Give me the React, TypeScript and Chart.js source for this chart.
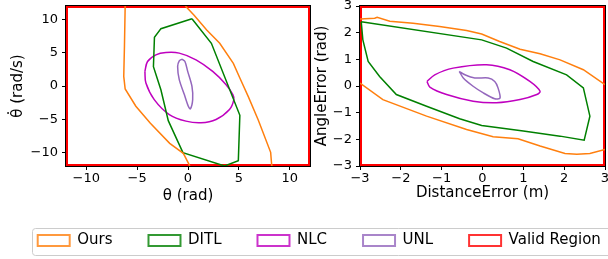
import React, { useEffect, useRef } from 'react';
import { Chart, registerables } from 'chart.js';

Chart.register(...registerables);

const FAMILY = "'DejaVu Sans', sans-serif";

// ---------- series names & colours ----------
const seriesNames = ['Ours', 'DITL', 'NLC', 'UNL', 'Valid Region'];
const seriesColors = ['#ff7f0e', '#008000', '#bf00bf', '#9467bd', '#ff0000'];
const legendColors = [
  'rgba(255,127,14,0.8)',
  'rgba(0,128,0,0.8)',
  'rgba(191,0,191,0.8)',
  'rgba(148,103,189,0.8)',
  'rgba(255,0,0,0.8)',
];

// ---------- left panel: pendulum (theta, theta-dot) ----------
const pendXTicks = [-10, -5, 0, 5, 10];
const pendYTicks = [-10, -5, 0, 5, 10];
const pendLimit = 12;

const oursPendLeft: [number, number][] = [
  [-6.18, 12], [-6.25, 6], [-6.32, 1.44], [-6.18, -0.45], [-5.13, -3.03],
  [-3.7, -5.6], [-1.8, -8.6], [-0.46, -10.1], [0.13, -11.85], [0.15, -12],
];
const oursPendRight: [number, number][] = [
  [-0.26, 12], [0.6, 10.6], [1.84, 8.4], [3.12, 6.4], [4.46, 3.4],
  [5.1, 1.2], [5.93, -1.6], [6.91, -5.1], [8.13, -9.95], [8.23, -11.85], [8.25, -12],
];
const ditlPend: [number, number][] = [
  [0.39, 10.1], [2.3, 6.4], [5.1, -4.4], [4.95, -11.2], [3.6, -12],
  [-0.5, -10.0], [-1.94, -5.2], [-2.66, -0.6], [-3.4, 2.9], [-3.3, 7.3],
  [-2.66, 8.6], [0.39, 10.1],
];
const nlcPend: [number, number][] = [
  [-4.24, 2.19], [-3.98, 3.68], [-3.16, 4.68], [-2.17, 5.02], [-0.86, 4.93],
  [0.79, 3.93], [2.43, 2.19], [3.75, 0.2], [4.41, -1.29], [4.51, -2.04],
  [4.08, -3.53], [2.76, -5.02], [1.28, -5.52], [-0.2, -5.27], [-1.84, -4.28],
  [-3.32, -2.04], [-4.14, 0.45], [-4.24, 2.19],
];
const unlPend: [number, number][] = [
  [-0.59, 4.03], [-0.3, 3.68], [-0.03, 2.19], [0.39, -0.05], [0.46, -2.04],
  [0.23, -3.43], [0.03, -3.03], [-0.36, -1.29], [-0.86, 0.95], [-1.02, 2.94],
  [-0.86, 3.78], [-0.59, 4.03],
];

// ---------- right panel: tracking (distance error, angle error) ----------
const trackXTicks = [-3, -2, -1, 0, 1, 2, 3];
const trackYTicks = [-3, -2, -1, 0, 1, 2, 3];
const trackLimit = 3;

const oursTrackUpper: [number, number][] = [
  [-3, 2.51], [-2.64, 2.54], [-2.58, 2.58], [-2.27, 2.43], [-1.7, 2.35],
  [-1.05, 2.23], [-0.39, 2.08], [-0.02, 1.95], [0.42, 1.67], [0.92, 1.38],
  [1.41, 1.21], [1.9, 0.98], [2.47, 0.61], [3, 0.05],
];
const oursTrackLower: [number, number][] = [
  [-3, 0.11], [-2.44, -0.51], [-1.37, -1.13], [-0.39, -1.63], [0.26, -1.9],
  [0.87, -1.98], [1.41, -2.25], [2.02, -2.53], [2.31, -2.56], [2.63, -2.53],
  [3, -2.38],
];
const ditlTrack: [number, number][] = [
  [-2.97, 2.41], [-0.02, 1.73], [0.59, 1.42], [1.24, 0.92], [2.06, 0.42],
  [2.47, -0.07], [2.63, -1.13], [2.49, -2.03], [1.9, -1.88], [1.0, -1.69],
  [-0.02, -1.48], [-0.56, -1.23], [-1.37, -0.76], [-2.11, -0.32], [-2.52, 0.36],
  [-2.8, 0.92], [-2.93, 1.73], [-2.97, 2.41],
];
const nlcTrack: [number, number][] = [
  [-1.36, 0.17], [-1.17, 0.42], [-0.72, 0.67], [0.1, 0.8], [0.67, 0.61],
  [1.16, 0.17], [1.41, -0.2], [1.33, -0.32], [0.92, -0.51], [0.34, -0.63],
  [-0.23, -0.57], [-0.88, -0.32], [-1.29, -0.04], [-1.36, 0.17],
];
const unlTrack: [number, number][] = [
  [-0.57, 0.55], [-0.43, 0.42], [-0.19, 0.3], [0.14, 0.3], [0.3, 0.17],
  [0.38, -0.07], [0.43, -0.45], [0.3, -0.48], [0.02, -0.26], [-0.23, -0.01],
  [-0.47, 0.3], [-0.57, 0.55],
];

// ---------- helpers ----------
const toPts = (arr: [number, number][]) => arr.map(([x, y]) => ({ x, y }));
const fmt = (v: any) => String(v).replace('-', '\u2212');

function curve(data: [number, number][], color: string, tension = 0, extra: any = {}) {
  return {
    data: toPts(data),
    showLine: true,
    borderColor: color,
    backgroundColor: 'transparent',
    borderWidth: 1.5,
    pointRadius: 0,
    pointHoverRadius: 0,
    tension,
    fill: false,
    ...extra,
  };
}

function validRegion(lim: number) {
  const box: [number, number][] = [[-lim, -lim], [lim, -lim], [lim, lim], [-lim, lim], [-lim, -lim]];
  return curve(box, seriesColors[4], 0, { borderWidth: 4, clip: 0 });
}

const spinePlugin = {
  id: 'spine',
  afterDatasetsDraw(chart: any) {
    const { ctx, chartArea: a } = chart;
    ctx.save();
    ctx.strokeStyle = '#000';
    ctx.lineWidth = 1;
    ctx.strokeRect(a.left - 0.5, a.top - 0.5, a.right - a.left + 1, a.bottom - a.top + 1);
    ctx.restore();
  },
};

function plotConfig(o: {
  datasets: any[];
  lim: number;
  xTicks: number[];
  yTicks: number[];
  xTitle: string;
  yTitle: string;
  yWidth: number;
  padRight: number;
  xTitleBottom: number;
  yTitleTop: number;
}): any {
  const tickFont = { size: 13, family: FAMILY };
  const titleFont = { size: 15, family: FAMILY };
  const grid = { drawOnChartArea: false, drawTicks: true, tickLength: 4, tickColor: '#000', tickWidth: 1 };
  return {
    type: 'scatter',
    data: { datasets: o.datasets },
    options: {
      animation: false,
      responsive: false,
      events: [],
      layout: { padding: { left: 0, right: o.padRight, top: 6, bottom: 0 } },
      plugins: { legend: { display: false }, tooltip: { enabled: false } },
      scales: {
        x: {
          type: 'linear',
          min: -o.lim,
          max: o.lim,
          afterBuildTicks: (s: any) => { s.ticks = o.xTicks.map((v) => ({ value: v })); },
          afterFit: (s: any) => { s.height = 44; s.paddingLeft = 0; s.paddingRight = 0; },
          ticks: { font: tickFont, color: '#000', padding: 1, maxRotation: 0, autoSkip: false, callback: fmt },
          grid,
          border: { display: false },
          title: { display: true, text: o.xTitle, font: titleFont, color: '#000', padding: { top: 0, bottom: o.xTitleBottom } },
        },
        y: {
          type: 'linear',
          min: -o.lim,
          max: o.lim,
          afterBuildTicks: (s: any) => { s.ticks = o.yTicks.map((v) => ({ value: v })); },
          afterFit: (s: any) => { s.width = o.yWidth; s.paddingTop = 0; s.paddingBottom = 0; },
          ticks: { font: tickFont, color: '#000', padding: 4, autoSkip: false, callback: fmt },
          grid,
          border: { display: false },
          title: { display: true, text: o.yTitle, font: titleFont, color: '#000', padding: { top: o.yTitleTop, bottom: 0 } },
        },
      },
    },
    plugins: [spinePlugin],
  };
}

const legendFramePlugin = {
  id: 'legendFrame',
  afterDraw(chart: any) {
    const boxes = chart.legend && chart.legend.legendHitBoxes;
    if (!boxes || !boxes.length) return;
    const ctx = chart.ctx;
    const first = boxes[0];
    const left = Math.round(first.left - 5.5) + 0.5;
    const top = Math.round(first.top - 5) + 0.5;
    const height = 27;
    const right = chart.width + 20;
    const r = 3;
    ctx.save();
    ctx.strokeStyle = '#cccccc';
    ctx.lineWidth = 1;
    ctx.beginPath();
    ctx.moveTo(left + r, top);
    ctx.lineTo(right, top);
    ctx.lineTo(right, top + height);
    ctx.lineTo(left + r, top + height);
    ctx.arcTo(left, top + height, left, top + height - r, r);
    ctx.lineTo(left, top + r);
    ctx.arcTo(left, top, left + r, top, r);
    ctx.stroke();
    ctx.restore();
  },
};

export default function App() {
  const leftRef = useRef<HTMLCanvasElement>(null);
  const rightRef = useRef<HTMLCanvasElement>(null);
  const legendRef = useRef<HTMLCanvasElement>(null);

  useEffect(() => {
    const left = new Chart(
      leftRef.current as HTMLCanvasElement,
      plotConfig({
        datasets: [
          curve(oursPendLeft, seriesColors[0]),
          curve(oursPendRight, seriesColors[0]),
          curve(ditlPend, seriesColors[1]),
          curve(nlcPend, seriesColors[2], 0.35),
          curve(unlPend, seriesColors[3], 0.3),
          validRegion(pendLimit),
        ],
        lim: pendLimit,
        xTicks: pendXTicks,
        yTicks: pendYTicks,
        xTitle: 'θ (rad)',
        yTitle: 'θ\u0307 (rad/s)',
        yWidth: 66,
        padRight: 10,
        xTitleBottom: 5,
        yTitleTop: 9,
      })
    );
    const right = new Chart(
      rightRef.current as HTMLCanvasElement,
      plotConfig({
        datasets: [
          curve(oursTrackUpper, seriesColors[0]),
          curve(oursTrackLower, seriesColors[0]),
          curve(ditlTrack, seriesColors[1]),
          curve(nlcTrack, seriesColors[2], 0.3),
          curve(unlTrack, seriesColors[3], 0.25),
          validRegion(trackLimit),
        ],
        lim: trackLimit,
        xTicks: trackXTicks,
        yTicks: trackYTicks,
        xTitle: 'DistanceError (m)',
        yTitle: 'AngleError (rad)',
        yWidth: 50,
        padRight: 3,
        xTitleBottom: 8,
        yTitleTop: 3,
      })
    );
    const legend = new Chart(legendRef.current as HTMLCanvasElement, {
      type: 'scatter',
      data: {
        datasets: seriesNames.map((name, i) => ({
          label: name,
          data: [],
          borderColor: legendColors[i],
          backgroundColor: 'transparent',
          borderWidth: 2,
        })),
      },
      options: {
        animation: false,
        responsive: false,
        events: [],
        layout: { padding: { left: 1.7, top: 1, right: 0, bottom: 0 } },
        scales: { x: { display: false }, y: { display: false } },
        plugins: {
          tooltip: { enabled: false },
          legend: {
            display: true,
            position: 'top',
            align: 'start',
            labels: {
              boxWidth: 32,
              boxHeight: 11,
              padding: 36,
              color: '#000',
              font: { size: 15, family: FAMILY },
            },
          },
        },
      } as any,
      plugins: [legendFramePlugin],
    });
    return () => {
      left.destroy();
      right.destroy();
      legend.destroy();
    };
  }, []);

  return (
    <div style={{ position: 'fixed', left: 0, top: 0, width: 608, height: 259, overflow: 'hidden', background: '#fff' }}>
      <canvas ref={legendRef} width={760} height={120} style={{ position: 'absolute', left: 0, top: 196, width: 760, height: 120 }} />
      <canvas ref={leftRef} width={320} height={210} style={{ position: 'absolute', left: 0, top: 0, width: 320, height: 210 }} />
      <canvas ref={rightRef} width={298} height={210} style={{ position: 'absolute', left: 310, top: 0, width: 298, height: 210 }} />
    </div>
  );
}
